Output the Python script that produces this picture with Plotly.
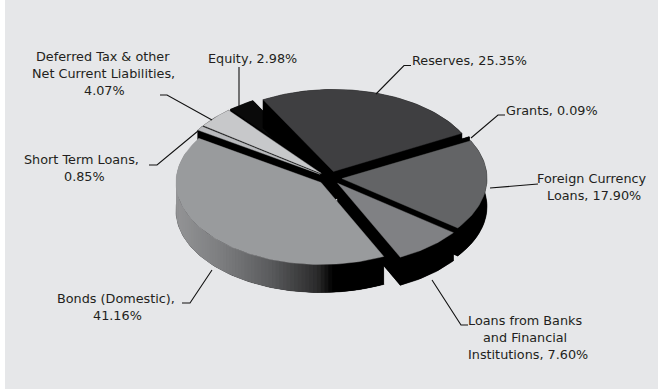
import math
import plotly.graph_objects as go

# Capital structure shares, clockwise from the first slice
categories = ["Reserves", "Grants", "Foreign Currency Loans",
              "Loans from Banks and Financial Institutions", "Bonds (Domestic)",
              "Short Term Loans", "Deferred Tax & other Net Current Liabilities", "Equity"]
shares = [25.35, 0.09, 17.90, 7.60, 41.16, 0.85, 4.07, 2.98]
top_colors = ["#3f3f41", "#000000", "#636466", "#808184", "#999b9d", "#b9babd", "#c7c8ca", "#0a0a0a"]

# Back-to-front drawing order of the slices
paint_order = [7, 0, 1, 6, 5, 2, 3, 4]

# Label lines and their centres
label_lines = [
    ("Deferred Tax & other", 103, 56), ("Net Current Liabilities,", 103, 73), ("4.07%", 104, 90),
    ("Equity, 2.98%", 252, 58),
    ("Reserves, 25.35%", 469, 60),
    ("Grants, 0.09%", 552, 110),
    ("Foreign Currency", 592, 178), ("Loans, 17.90%", 594, 195),
    ("Short Term Loans,", 81, 159), ("0.85%", 84, 176),
    ("Bonds (Domestic),", 116, 298), ("41.16%", 117, 315),
    ("Loans from Banks", 525, 320), ("and Financial", 525, 337), ("Institutions, 7.60%", 528, 354),
]

# Leader line routes
leaders = [
    [(212, 120), (167, 95), (160, 95)],
    [(239, 107), (239, 67)],
    [(376, 94), (400, 69), (404, 65.5), (411, 65.5)],
    [(471, 138), (498, 115), (505, 115)],
    [(490, 188), (538, 184)],
    [(198, 131), (157, 165), (149, 165)],
    [(212, 270), (190, 303), (182, 303)],
    [(432, 280), (461, 325), (468, 325)],
]

# Pie projection
CX, CY = 330, 178
RX, RY = 145, 82
SQUASH = RY / RX
DEPTH = 28
EXPLODE = 12
START_DEG = -29.0
BONDS_INDEX = 4
GRADIENT = [(0.0, (147, 148, 150)), (0.3, (123, 124, 126)), (0.6, (90, 91, 93)),
            (0.9, (43, 43, 43)), (1.0, (0, 0, 0))]
GRAD_X0, GRAD_X1 = 177, 333

fig = go.Figure()


def add_poly(points, color, edge=0.4):
    xs = [p[0] for p in points] + [points[0][0]]
    ys = [p[1] for p in points] + [points[0][1]]
    fig.add_trace(go.Scatter(x=xs, y=ys, mode="lines", fill="toself", fillcolor=color,
                             line=dict(color=color, width=edge), hoverinfo="skip", showlegend=False))


def side_color(x):
    t = min(max((x - GRAD_X0) / (GRAD_X1 - GRAD_X0), 0), 1)
    for (t0, c0), (t1, c1) in zip(GRADIENT, GRADIENT[1:]):
        if t <= t1:
            f = (t - t0) / (t1 - t0)
            rgb = [round(a + (b - a) * f) for a, b in zip(c0, c1)]
            return "rgb({},{},{})".format(*rgb)
    return "rgb(0,0,0)"


def draw_slice(index, a0, a1):
    mid = math.radians((a0 + a1) / 2)
    ox = CX + EXPLODE * math.sin(mid)
    oy = CY - EXPLODE * math.cos(mid) * SQUASH
    steps = max(2, int(abs(a1 - a0) / 1.5))
    angles = [math.radians(a0 + (a1 - a0) * i / steps) for i in range(steps + 1)]
    arc = [(ox + RX * math.sin(t), oy - RY * math.cos(t)) for t in angles]
    drop = lambda pts: [(x, y + DEPTH) for x, y in pts]

    # Base and both radial walls
    add_poly([(ox, oy + DEPTH)] + drop(arc), "#000000")
    add_poly([(ox, oy), arc[0], drop(arc)[0], (ox, oy + DEPTH)], "#000000")
    add_poly([(ox, oy), arc[-1], drop(arc)[-1], (ox, oy + DEPTH)], "#000000")

    # Rim: shaded strip by strip on the largest slice, flat black elsewhere
    if index == BONDS_INDEX:
        # Right to left, each strip overlapping the previous one to close the seams
        for p, q, r in zip(arc, arc[1:], arc[2:] + arc[-1:]):
            if max(p[1], q[1]) + DEPTH > oy:
                add_poly([p, r, (r[0], r[1] + DEPTH), (p[0], p[1] + DEPTH)],
                         side_color((p[0] + q[0]) / 2), edge=0)
    else:
        add_poly(arc + drop(arc)[::-1], "#000000")

    add_poly([(ox, oy)] + arc, top_colors[index])


total = sum(shares)
spans = []
angle = START_DEG
for value in shares:
    sweep = value / total * 360
    spans.append((angle, angle + sweep))
    angle += sweep

for i in paint_order:
    draw_slice(i, *spans[i])

for route in leaders:
    fig.add_trace(go.Scatter(x=[p[0] for p in route], y=[p[1] for p in route], mode="lines",
                             line=dict(color="#111111", width=1.1), hoverinfo="skip", showlegend=False))

annotations = [dict(x=x, y=y, text=text, showarrow=False, xanchor="center", yanchor="middle",
                    font=dict(family="DejaVu Sans", size=12.8, color="#231f20"))
               for text, x, y in label_lines]

fig.update_layout(
    width=658, height=389, autosize=False,
    margin=dict(l=0, r=0, t=0, b=0),
    paper_bgcolor="#ffffff", plot_bgcolor="#ffffff",
    xaxis=dict(range=[0, 658], visible=False, fixedrange=True),
    yaxis=dict(range=[389, 0], visible=False, fixedrange=True),
    shapes=[dict(type="rect", x0=5, x1=658, y0=0, y1=389, fillcolor="#e6e7e9",
                 line=dict(width=0), layer="below")],
    annotations=annotations,
)

fig.write_html("out.html", config={"displayModeBar": False})
